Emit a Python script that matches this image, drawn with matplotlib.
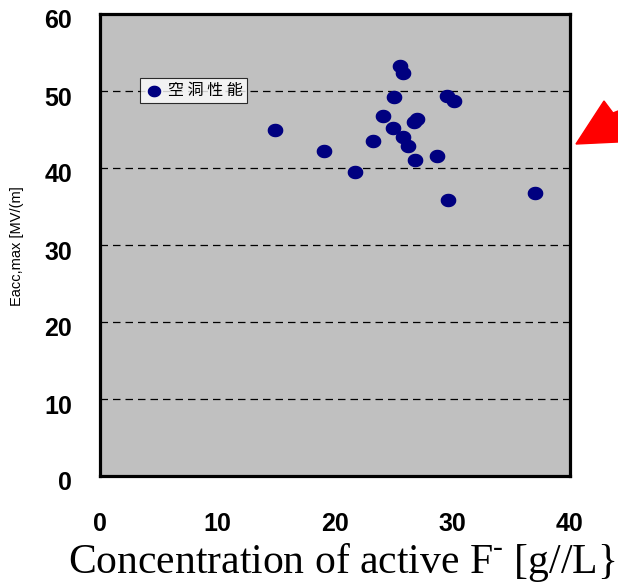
import matplotlib.pyplot as plt
import matplotlib.transforms as mtransforms
from matplotlib.path import Path
from matplotlib.patches import Polygon
import numpy as np

plt.rcParams['mathtext.fontset'] = 'custom'
plt.rcParams['mathtext.rm'] = 'Liberation Serif'

# F- concentration [g/L] vs Eacc,max [MV/m]
conc = [14.9, 19.1, 21.7, 23.2, 24.1, 24.9, 25.0, 25.5, 25.8, 25.75,
        26.2, 26.7, 27.0, 26.8, 28.7, 29.5, 30.1, 29.6, 37.0]
eacc = [44.9, 42.2, 39.5, 43.5, 46.7, 45.2, 49.2, 53.2, 52.4, 44.0,
        42.9, 46.0, 46.4, 41.0, 41.6, 49.4, 48.7, 35.9, 36.7]

xticks = [0, 10, 20, 30, 40]
yticks = [0, 10, 20, 30, 40, 50, 60]

# slightly flattened dot marker
t = np.linspace(0, 2 * np.pi, 60)
ellipse = Path(np.column_stack([np.cos(t), 0.85 * np.sin(t)]), closed=True)

fig = plt.figure(figsize=(6.18, 5.84), dpi=100)
ax = fig.add_axes([100 / 618, 1 - 476 / 584, 470 / 618, 462 / 584])
ax.set_facecolor('#c0c0c0')

ax.scatter(conc, eacc, marker=ellipse, s=105, color='#000080', zorder=3,
           label='空洞性能')

for v in yticks[1:-1]:
    ax.axhline(v, color='black', lw=0.9, ls=(0, (6, 4)), zorder=1)

ax.set_xlim(0, 40)
ax.set_ylim(0, 60)
ax.set_xticks(xticks)
ax.set_yticks(yticks)
ax.tick_params(length=0, labelsize=18)
for lab in ax.get_xticklabels() + ax.get_yticklabels():
    lab.set_fontfamily('Liberation Sans')
    lab.set_fontweight('bold')
ax.tick_params(axis='x', pad=26)
ax.tick_params(axis='y', pad=20)
off = mtransforms.ScaledTranslation(0, -5 / 100, fig.dpi_scale_trans)
for lab in ax.get_yticklabels():
    lab.set_transform(lab.get_transform() + off)

for sp in ax.spines.values():
    sp.set_linewidth(2.3)

fig.text(68 / 618, 1 - 562 / 584, r'Concentration of active F$^{\text{-}}$ [g//L}',
         ha='left', va='center', fontfamily='Liberation Serif', fontsize=30)
fig.text(17 / 618, 1 - 246 / 584, 'Eacc,max [MV/(m]', rotation=90,
         ha='center', va='center', fontsize=10.5, fontfamily='Liberation Sans')

leg = ax.legend(loc='upper left', bbox_to_anchor=(0.085, 0.862),
                prop={'family': 'Noto Sans CJK JP', 'size': 11.5},
                frameon=True, fancybox=False, edgecolor='black',
                borderpad=0.25, handletextpad=0.3, borderaxespad=0,
                handlelength=1.2, markerscale=0.85)
leg.get_frame().set_linewidth(0.8)
for txt in leg.get_texts():
    txt.set_text('空 洞 性 能')

# red arrow head at the right edge
arrow = Polygon([[576 / 618, 1 - 144 / 584], [604 / 618, 1 - 101 / 584],
                 [613 / 618, 1 - 113 / 584], [618 / 618, 1 - 111 / 584],
                 [618 / 618, 1 - 142 / 584]],
                closed=True, color='red', transform=fig.transFigure)
fig.patches.append(arrow)

fig.savefig('out.png', dpi=100)
